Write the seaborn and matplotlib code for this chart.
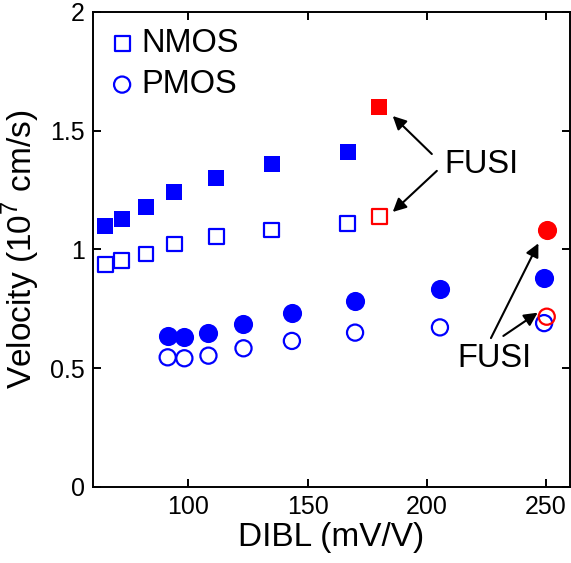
import matplotlib
matplotlib.use("Agg")
import matplotlib.pyplot as plt
import seaborn as sns

# Saturation velocity versus DIBL
nmos_dibl = [65.1, 72.1, 82.2, 94.1, 111.6, 135.0, 166.9]
nmos_vel_filled = [1.10, 1.13, 1.18, 1.24, 1.30, 1.36, 1.41]
nmos_vel_open = [0.935, 0.952, 0.981, 1.023, 1.053, 1.082, 1.110]

pmos_dibl = [91.3, 98.3, 108.4, 123.1, 143.4, 169.9, 205.5, 249.2]
pmos_vel_filled = [0.637, 0.633, 0.650, 0.685, 0.731, 0.784, 0.832, 0.879]
pmos_vel_open = [0.546, 0.542, 0.553, 0.584, 0.615, 0.650, 0.672, 0.690]

# FUSI gate devices
fusi_nmos_dibl = [180.0]
fusi_nmos_filled = [1.60]
fusi_nmos_open = [1.14]
fusi_pmos_dibl = [250.3]
fusi_pmos_filled = [1.08]
fusi_pmos_open = [0.717]

x_ticks = [100, 150, 200, 250]
y_ticks = [0, 0.5, 1, 1.5, 2]
y_tick_labels = ["0", "0.5", "1", "1.5", "2"]

sns.set_style("ticks")
plt.rcParams["font.family"] = ["Liberation Sans", "DejaVu Sans"]
plt.rcParams["mathtext.fontset"] = "custom"
plt.rcParams["mathtext.rm"] = "Liberation Sans"
plt.rcParams["text.color"] = "black"
plt.rcParams["axes.labelcolor"] = "black"
plt.rcParams["xtick.color"] = "black"
plt.rcParams["ytick.color"] = "black"

BLUE = "#0000ff"
RED = "#ff0000"

fig = plt.figure(figsize=(5.71, 5.63), dpi=100)
ax = fig.add_axes([0.163, 0.135, 0.835, 0.8437])

def filled(x, y, marker, color, s):
    sns.scatterplot(x=x, y=y, ax=ax, marker=marker, s=s, color=color,
                    edgecolor=color, linewidth=0, zorder=3)

def hollow(x, y, marker, color, s, label=None):
    sns.scatterplot(x=x, y=y, ax=ax, marker=marker, s=s, facecolors="none",
                    edgecolors=color, linewidth=1.6, zorder=3, label=label)

filled(nmos_dibl, nmos_vel_filled, "s", BLUE, 135)
hollow(nmos_dibl, nmos_vel_open, "s", BLUE, 115, label="NMOS")
filled(pmos_dibl, pmos_vel_filled, "o", BLUE, 190)
hollow(pmos_dibl, pmos_vel_open, "o", BLUE, 135, label="PMOS")

filled(fusi_nmos_dibl, fusi_nmos_filled, "s", RED, 135)
hollow(fusi_nmos_dibl, fusi_nmos_open, "s", RED, 115)
filled(fusi_pmos_dibl, fusi_pmos_filled, "o", RED, 190)
hollow(fusi_pmos_dibl, fusi_pmos_open, "o", RED, 135)

ax.set_xlim(60, 260)
ax.set_ylim(0, 2)
ax.set_xticks(x_ticks)
ax.set_yticks(y_ticks)
ax.set_yticklabels(y_tick_labels)
ax.tick_params(axis="both", which="both", direction="in", length=6, width=1.4,
               labelsize=18, top=True, right=True, pad=6,
               colors="black", labelcolor="black")
for sp in ax.spines.values():
    sp.set_visible(True)
    sp.set_linewidth(1.4)
    sp.set_color("black")

ax.set_xlabel("DIBL (mV/V)", fontsize=24, labelpad=2, color="black")
ax.set_ylabel("Velocity (10$^7$ cm/s)", fontsize=24, labelpad=6, color="black")

ax.legend(loc="upper left", bbox_to_anchor=(0.013, 0.993), borderaxespad=0,
          frameon=False, fontsize=23.5, handletextpad=0.3,
          labelspacing=0.3, handlelength=0.6, markerscale=1.0,
          labelcolor="black")

arrow = dict(arrowstyle="-|>", color="black", lw=1.5, mutation_scale=20,
             shrinkA=0, shrinkB=0)
ax.text(222.7, 1.356, "FUSI", fontsize=23.5, ha="center", va="center")
ax.annotate("", xy=(185.7, 1.562), xytext=(202.1, 1.402), arrowprops=arrow)
ax.annotate("", xy=(185.7, 1.158), xytext=(204.2, 1.331), arrowprops=arrow)

ax.text(228.5, 0.539, "FUSI", fontsize=23.5, ha="center", va="center")
ax.annotate("", xy=(246.8, 1.026), xytext=(226.9, 0.627), arrowprops=arrow)
ax.annotate("", xy=(246.5, 0.734), xytext=(232.1, 0.636), arrowprops=arrow)

fig.savefig("out.png", dpi=100)
